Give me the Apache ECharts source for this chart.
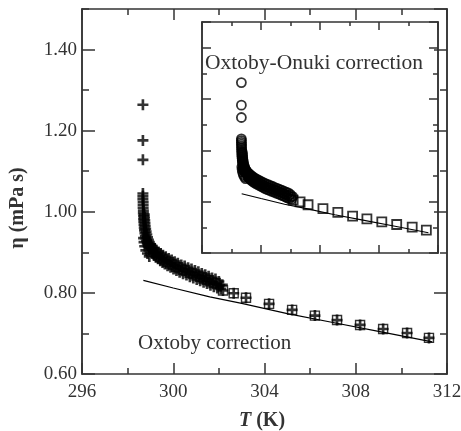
<!DOCTYPE html>
<html>
<head>
<meta charset="utf-8">
<script src="https://cdn.jsdelivr.net/npm/echarts@6/dist/echarts.min.js"></script>
<style>
html,body{margin:0;padding:0;background:#fff;}
#chart{width:461px;height:431px;}
</style>
</head>
<body>
<div id="chart"></div>
<script>
// viscosity near Tc (crosses in main plot, circles in the inset)
var nearT = [298.67,298.67,298.67,298.67,298.67,298.67,298.68,298.68,298.68,298.69,298.69,298.70,298.70,298.71,298.72,298.73,298.74,298.76,298.78,298.80,298.83,298.86,298.90,298.95,
  298.73,298.74,298.75,298.76,298.77,298.79,298.81,298.84,298.87,298.91,298.95,299.00,
  298.70,298.72,298.75,298.80,298.87,298.95,
  299.01,299.05,299.09, 299.08,299.12,299.16, 299.16,299.20,299.24, 299.25,299.29,299.33, 299.35,299.39,299.43, 299.45,299.49,299.53,
  299.55,299.59,299.63, 299.67,299.71,299.75, 299.80,299.84,299.88, 299.93,299.97,300.01, 300.06,300.10,300.14, 300.20,300.24,300.28,
  300.35,300.39,300.43, 300.50,300.54,300.58, 300.65,300.69,300.73, 300.80,300.84,300.88, 300.95,300.99,301.03, 301.10,301.14,301.18,
  301.25,301.29,301.33, 301.40,301.44,301.48, 301.55,301.59,301.63, 301.70,301.74,301.78, 301.85,301.89,301.93, 302.00,302.04,302.08, 302.15];
var nearEta = [1.264,1.176,1.128,1.045,1.038,1.031,1.024,1.017,1.010,1.003,0.996,0.989,0.982,0.975,0.968,0.961,0.954,0.947,0.940,0.934,0.928,0.922,0.917,0.912,
  0.993,0.986,0.979,0.972,0.965,0.958,0.951,0.944,0.937,0.931,0.925,0.920,
  0.935,0.925,0.915,0.905,0.897,0.890,
  0.919,0.908,0.897, 0.914,0.903,0.892, 0.910,0.899,0.888, 0.906,0.895,0.884, 0.901,0.890,0.879, 0.897,0.886,0.875,
  0.893,0.882,0.871, 0.889,0.878,0.867, 0.885,0.874,0.863, 0.881,0.870,0.859, 0.877,0.866,0.855, 0.873,0.862,0.851,
  0.869,0.858,0.847, 0.866,0.855,0.844, 0.862,0.851,0.840, 0.859,0.848,0.837, 0.855,0.844,0.833, 0.852,0.841,0.830,
  0.848,0.837,0.826, 0.845,0.834,0.823, 0.841,0.830,0.819, 0.837,0.826,0.815, 0.834,0.823,0.812, 0.828,0.819,0.810, 0.820];
// points further away (squares)
var farT = [302.18,302.65,303.19,304.20,305.21,306.21,307.18,308.19,309.20,310.25,311.21];
var farEta = [0.806,0.799,0.788,0.773,0.758,0.744,0.733,0.721,0.711,0.701,0.689];
// background line
var fitT = [298.69,300.00,301.60,303.00,305.00,307.00,309.00,311.35];
var fitEta = [0.831,0.812,0.790,0.774,0.749,0.727,0.705,0.679];

var serif = '"Liberation Serif","DejaVu Serif",serif';
var ink = '#333';
var plus = 'path://M3.8,0H6.2V3.8H10V6.2H6.2V10H3.8V6.2H0V3.8H3.8Z';

function pairs(a, b) {
  var out = [];
  for (var i = 0; i < a.length; i++) out.push([a[i], b[i]]);
  return out;
}

function xAx(grid, pos, big, small, labels) {
  return {
    type: 'value', gridIndex: grid, position: pos, min: 296, max: 312, interval: 4,
    axisLine: {show: true, onZero: false, lineStyle: {color: ink, width: 1.5}},
    axisTick: {inside: true, length: big, lineStyle: {color: ink, width: 1.5}},
    minorTick: {show: true, splitNumber: 2, length: small, lineStyle: {color: ink, width: 1.5}},
    axisLabel: {show: labels, margin: 9, color: ink, fontSize: 19, fontFamily: serif},
    splitLine: {show: false}, minorSplitLine: {show: false}
  };
}

function yAx(grid, pos, step, len, labels) {
  return {
    type: 'value', gridIndex: grid, position: pos, min: 0.6, max: 1.5, interval: step,
    axisLine: {show: true, onZero: false, lineStyle: {color: ink, width: 1.5}},
    axisTick: {inside: true, length: len, lineStyle: {color: ink, width: 1.5}},
    axisLabel: {show: labels, showMaxLabel: false, margin: 5, color: ink, fontSize: 19, fontFamily: serif,
      formatter: function (v) { return v.toFixed(2); }},
    splitLine: {show: false}
  };
}

var chart = echarts.init(document.getElementById('chart'));
var option = {
  animation: false,
  backgroundColor: '#fff',
  grid: [
    {left: 82, top: 9, width: 365, height: 365, outerBoundsMode: 'none'},
    {left: 202, top: 22, width: 236, height: 231, outerBoundsMode: 'none'}
  ],
  xAxis: [
    xAx(0, 'bottom', 11, 6, true),
    xAx(0, 'top', 11, 6, false),
    xAx(1, 'bottom', 8, 4, false),
    xAx(1, 'top', 8, 4, false)
  ],
  yAxis: [
    yAx(0, 'left', 0.2, 13, true),
    yAx(0, 'left', 0.1, 7, false),
    yAx(0, 'right', 0.2, 13, false),
    yAx(0, 'right', 0.1, 7, false),
    yAx(1, 'left', 0.2, 9, false),
    yAx(1, 'left', 0.1, 5, false),
    yAx(1, 'right', 0.2, 9, false),
    yAx(1, 'right', 0.1, 5, false)
  ],
  series: [
    {type: 'line', xAxisIndex: 0, yAxisIndex: 0, data: pairs(fitT, fitEta), symbol: 'none',
      lineStyle: {color: '#000', width: 1.2}},
    {type: 'scatter', xAxisIndex: 0, yAxisIndex: 0, data: pairs(farT, farEta), symbol: 'rect', symbolSize: 9,
      itemStyle: {color: 'rgba(0,0,0,0)', borderColor: '#000', borderWidth: 1.4}},
    {type: 'scatter', xAxisIndex: 0, yAxisIndex: 0, data: pairs(nearT.concat(farT), nearEta.concat(farEta)),
      symbol: plus, symbolSize: 11, itemStyle: {color: '#000'}},
    {type: 'line', xAxisIndex: 2, yAxisIndex: 4, data: pairs(fitT, fitEta), symbol: 'none',
      lineStyle: {color: '#000', width: 1.1}},
    {type: 'scatter', xAxisIndex: 2, yAxisIndex: 4, data: pairs(nearT, nearEta), symbol: 'circle', symbolSize: 9,
      itemStyle: {color: 'rgba(0,0,0,0)', borderColor: '#000', borderWidth: 1.8}},
    {type: 'scatter', xAxisIndex: 2, yAxisIndex: 4, data: pairs(farT, farEta), symbol: 'rect', symbolSize: 9,
      itemStyle: {color: 'rgba(0,0,0,0)', borderColor: '#000', borderWidth: 1.8}}
  ],
  graphic: [
    {type: 'text', x: 138, y: 343, style: {text: 'Oxtoby correction', fill: ink, fontSize: 21, fontFamily: serif,
      textAlign: 'left', textVerticalAlign: 'middle'}},
    {type: 'text', x: 205, y: 63, style: {text: 'Oxtoby-Onuki correction', fill: ink, fontSize: 21.5, fontFamily: serif,
      textAlign: 'left', textVerticalAlign: 'middle'}},
    {type: 'text', x: 18, y: 208, rotation: Math.PI / 2, style: {text: '\u03b7 (mPa s)', fill: ink, fontSize: 20,
      fontWeight: 'bold', fontFamily: serif, textAlign: 'center', textVerticalAlign: 'middle'}},
    {type: 'text', x: 262, y: 421, style: {text: '{i|T} (K)', fill: ink, fontSize: 20, fontWeight: 'bold',
      fontFamily: serif, textAlign: 'center', textVerticalAlign: 'middle',
      rich: {i: {fontStyle: 'italic', fontWeight: 'bold', fontSize: 20, fontFamily: serif, fill: ink}}}}
  ]
};
chart.setOption(option);
</script>
</body>
</html>
